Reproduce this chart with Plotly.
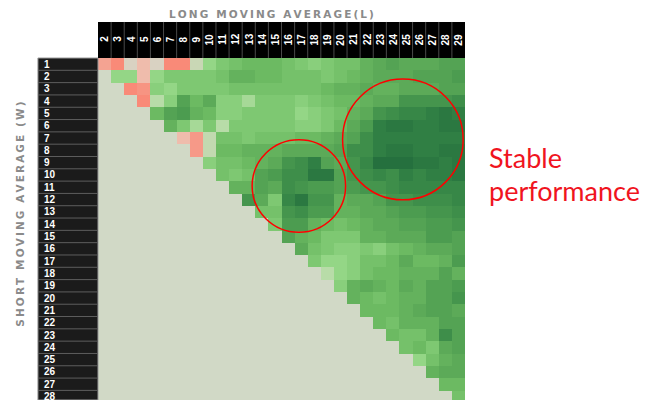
import plotly.graph_objects as go

long_ma = list(range(2, 30))   # L = 2..29
short_ma = list(range(1, 29))  # W = 1..28

# performance score per (W, L) — only L > W is defined; each row lists L = W+1 .. 29
perf_rows = [
    [-1.5, -2, 0, -1, 0, -2, -2, 0.5, 2, 3, 3.5, 4, 4, 4, 3.5, 3, 2.5, 3, 3.5, 3.5, 4.5, 5, 5.5, 5, 5, 5, 5.5, 5.5],
    [2, 2, -1, 2, 3, 3, 3, 3, 3.5, 4.5, 4.5, 4, 4, 3.5, 3.5, 3.5, 3, 3.5, 4, 4.5, 5, 5, 5, 5.5, 5.5, 5.5, 6],
    [-2, -1.8, 2.5, 2, 3, 3, 3, 3, 3.5, 3.5, 3.5, 3.5, 3.5, 3.5, 3.5, 4, 4.5, 4.5, 5, 4.5, 4.5, 5, 5, 5, 5.5, 5.5],
    [-2, 1, 2.5, 5.5, 4, 5, 2.5, 2.5, 1.5, 3, 3, 3, 2.5, 3, 3.5, 4, 4, 4.5, 5, 5, 6.5, 6.5, 6.5, 6.5, 7],
    [4, 5.5, 6, 4.5, 4, 2.5, 2.5, 3, 3, 3, 3, 2, 2.5, 3, 3.5, 4.5, 5, 6.5, 7, 7.5, 7.5, 8, 8.5, 8],
    [4.5, 3, 1.5, 3, 1, 3, 3, 3, 3, 3, 2.5, 2.5, 3, 4, 5, 6, 8, 8.5, 8.5, 8, 8, 8.5, 8.5],
    [-1, -1.7, 0.7, 3.5, 3.5, 3, 3.5, 3.5, 3.5, 4, 4, 4.5, 5, 5.5, 7, 8, 8, 8, 8, 8, 8, 8],
    [-1.7, 0.7, 4, 4, 4.5, 4.5, 4.5, 5, 5, 5, 5, 5.5, 7, 7, 8, 8.5, 8.5, 8, 8, 8.5, 8.5],
    [2.5, 3.5, 3.5, 4, 4.5, 5, 6.5, 7, 8, 5.5, 5, 6.5, 7.5, 9, 9, 9, 8.5, 8.5, 8, 8.5],
    [3.5, 3, 3.5, 5.5, 6, 7, 7, 8.5, 8.5, 5.5, 6.5, 7, 7.5, 7, 8, 7.5, 8, 8, 8.5],
    [4.5, 4.5, 5.5, 5, 7, 6.5, 6, 6, 5.5, 6, 6.5, 6.5, 7, 7.5, 7.5, 7.5, 7.5, 7.5],
    [6.5, 5, 3, 7.5, 8.5, 6.5, 6.5, 4.5, 5, 5, 5.5, 6.5, 6.5, 7, 7, 7, 7.5],
    [3.5, 3.5, 6.5, 7, 6, 6, 4.5, 4.5, 5, 5, 5.5, 6, 6, 6.5, 6.5, 7],
    [3, 6, 6, 4.5, 4, 3.5, 4, 4.5, 5, 5, 5.5, 5.5, 6, 6, 6.5],
    [5.5, 4.5, 4, 3, 3, 3, 4.5, 4.5, 5, 5, 5, 6, 6, 5.5],
    [5, 3.5, 3, 2.5, 2.5, 3, 2.5, 3.5, 4, 4.5, 5, 5, 5.5],
    [3, 2, 2, 2.5, 3.5, 3.5, 4, 5, 4, 4, 4.5, 6],
    [1, 2, 2.5, 3.5, 4, 4, 4.5, 4.5, 4.5, 5.5, 4.5],
    [2.5, 4.5, 5, 4.5, 4, 5, 4.5, 5.5, 5.5, 6],
    [4.5, 4, 3.5, 4, 4.5, 4.5, 5.5, 5.5, 6.5],
    [4, 4, 4, 4.5, 5, 5.5, 5.5, 5],
    [4, 3.5, 4.5, 4.5, 4.5, 5.5, 5.5],
    [4, 3.5, 3.5, 4.5, 7, 5.5],
    [3.5, 4, 3, 5, 5.5],
    [2, 3.5, 4.5, 5],
    [4.5, 5, 5],
    [4, 4],
    [3.5],
]

# pad undefined (L <= W) cells with None
z = [[None] * (len(long_ma) - len(r)) + r for r in perf_rows]

zmin, zmax = -2, 9
stops = [(-2, "#f98a78"), (-1, "#efbcac"), (0, "#d9d2c2"), (1, "#b8dca8"),
         (2, "#94d686"), (3, "#7ec872"), (4, "#6cba62"), (5, "#5caa58"),
         (6, "#4c9c50"), (7, "#3e8e4a"), (8, "#307f44"), (9, "#25703e")]
colorscale = [[(v - zmin) / (zmax - zmin), c] for v, c in stops]

fig = go.Figure(go.Heatmap(
    z=z, x=long_ma, y=short_ma, colorscale=colorscale, zmin=zmin, zmax=zmax,
    showscale=False, hoverongaps=False,
))

W, H = 657, 400
L_, R_, T_, B_ = 98.3, 192, 58.3, 0
pw, ph = W - L_ - R_, H - T_ - B_

def px(xp):
    return (xp - L_) / pw

def py(yp):
    return (H - B_ - yp) / ph

shapes = []
annotations = []

# header band
shapes.append(dict(type="rect", xref="paper", yref="paper", x0=0, x1=1, y0=1, y1=py(22.3),
                   fillcolor="#000000", line_width=0, layer="above"))
for l in long_ma[:-1]:
    shapes.append(dict(type="line", xref="x", yref="paper", x0=l + 0.5, x1=l + 0.5,
                       y0=1, y1=py(22.3), line=dict(color="#4a4a4a", width=1), layer="above"))
for l in long_ma:
    annotations.append(dict(x=l, y=py(39.5), xref="x", yref="paper", text=str(l), showarrow=False,
                            xanchor="center", yanchor="middle", textangle=-90,
                            font=dict(family="Liberation Sans", size=10, color="white", weight="bold")))

# left label column
shapes.append(dict(type="rect", xref="paper", yref="paper", x0=px(38.3), x1=0, y0=0, y1=1,
                   fillcolor="#1b1b1b", line=dict(color="#9a9a9a", width=1), layer="above"))
for w in short_ma:
    shapes.append(dict(type="line", xref="paper", yref="y", x0=px(38.3), x1=0, y0=w + 0.5, y1=w + 0.5,
                       line=dict(color="#5e5e5e", width=1), layer="above"))
    annotations.append(dict(x=px(42.5), y=w, xref="paper", yref="y", text=str(w), showarrow=False,
                            xanchor="left", yanchor="middle",
                            font=dict(family="Liberation Sans", size=10, color="white", weight="bold")))

# titles (letter-spaced)
def spaced(s):
    return "\u2009".join("\u00a0" if ch == " " else ch for ch in s)

annotations.append(dict(x=px(271.5), y=py(14), xref="paper", yref="paper", text=spaced("LONG MOVING AVERAGE(L)"),
                        showarrow=False, xanchor="center", yanchor="middle",
                        font=dict(family="DejaVu Sans", size=10.5, color="#8a8a8a", weight="bold")))
annotations.append(dict(x=px(20.7), y=py(214.5), xref="paper", yref="paper", text=spaced("SHORT MOVING AVERAGE (W)"),
                        showarrow=False, textangle=-90, xanchor="center", yanchor="middle",
                        font=dict(family="DejaVu Sans", size=10.5, color="#8a8a8a", weight="bold")))

# highlight circles
shapes.append(dict(type="circle", xref="x", yref="y", x0=20.16, x1=29.36, y0=2.21, y1=12.02,
                   line=dict(color="#ff0000", width=1.5), layer="above"))
shapes.append(dict(type="circle", xref="x", yref="y", x0=13.26, x1=20.39, y0=7.14, y1=14.65,
                   line=dict(color="#ff0000", width=1.5), layer="above"))

annotations.append(dict(x=px(487), y=py(158), xref="paper", yref="paper", text="Stable",
                        xanchor="left", yanchor="middle", showarrow=False,
                        font=dict(family="Lato", size=27, color="#f0141e")))
annotations.append(dict(x=px(487), y=py(191), xref="paper", yref="paper", text="performance",
                        xanchor="left", yanchor="middle", showarrow=False,
                        font=dict(family="Lato", size=27, color="#f0141e")))

fig.update_layout(
    width=W, height=H, autosize=False,
    margin=dict(l=L_, r=R_, t=T_, b=B_, pad=0),
    paper_bgcolor="white", plot_bgcolor="#d1d9c6",
    xaxis=dict(range=[1.5, 29.5], showticklabels=False, showgrid=False, zeroline=False, ticks=""),
    yaxis=dict(range=[28.28, 0.5], showticklabels=False, showgrid=False, zeroline=False, ticks=""),
    shapes=shapes, annotations=annotations, showlegend=False,
)

fig.write_html("out.html")
